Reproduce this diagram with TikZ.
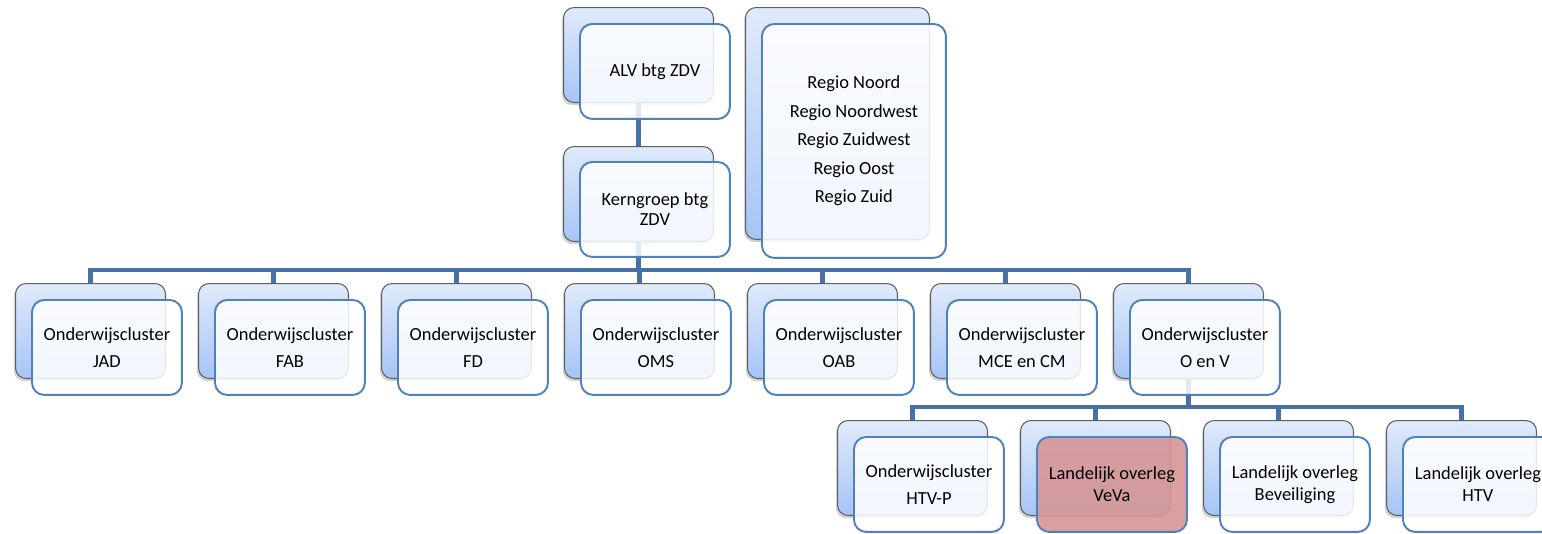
\documentclass[tikz,border=0pt]{standalone}
\usepackage{fontspec}
\setmainfont{Carlito}
\usetikzlibrary{shadows}

\definecolor{linkblue}{RGB}{70,112,168}
\definecolor{frameblue}{RGB}{79,129,189}
\definecolor{backtop}{RGB}{224,234,251}
\definecolor{backbot}{RGB}{166,196,246}
\definecolor{backframe}{RGB}{96,96,96}
\definecolor{vevared}{RGB}{214,150,150}

\tikzset{
  backbox/.style={anchor=north west, inner sep=0pt, minimum width=3cm, minimum height=1.9cm,
    rounded corners=6pt, draw=backframe, line width=0.6pt,
    top color=backtop, bottom color=backbot,
    drop shadow={shadow xshift=-1pt, shadow yshift=-1.5pt, opacity=0.35}},
  frontbox/.style={anchor=north west, inner sep=0pt, minimum width=3cm, minimum height=1.9cm,
    rounded corners=7pt, draw=frameblue, line width=1.1pt,
    fill=white, fill opacity=0.85, text opacity=1, align=center,
    font=\fontsize{10.5}{15.3}\selectfont},
  link/.style={draw=linkblue, line width=2.8pt}
}

\begin{document}
\begin{tikzpicture}[x=0.02cm, y=-0.02cm]
  \useasboundingbox (0,0) rectangle (1542,534);
  \coordinate (bus1) at (0,270);
  \coordinate (bus2) at (0,407);

  % back boxes
  \node[backbox] (alvB) at (563,7) {};
  \node[backbox] (kernB) at (563,146) {};
  \node[backbox, minimum width=3.68cm, minimum height=4.64cm] (regioB) at (745,7) {};
  \foreach \name [count=\i from 0] in {jad,fab,fd,oms,oab,mce,oenv}
    \node[backbox] (\name B) at (15+183*\i,283) {};
  \foreach \name [count=\i from 0] in {htvp,veva,bev,htv}
    \node[backbox] (\name B) at (837+183*\i,420) {};

  % connectors
  \draw[link] (alvB.south) -- (kernB.north);
  \foreach \name in {jad,fab,fd,oms,oab,mce,oenv}
    \draw[link] (kernB.south) -- (kernB.south |- bus1) -| (\name B.north);
  \foreach \name in {htvp,veva,bev,htv}
    \draw[link] (oenvB.south) -- (oenvB.south |- bus2) -| (\name B.north);

  % front boxes
  \node[frontbox] (alv) at (579,23) {ALV btg ZDV};
  \node[frontbox, font=\fontsize{10.5}{11.3}\selectfont] (kern) at (579,161) {Kerngroep btg\\ZDV};
  \node[frontbox, minimum width=3.68cm, minimum height=4.68cm, font=\fontsize{10.5}{16.2}\selectfont] (regio) at (761,23)
    {Regio Noord\\Regio Noordwest\\Regio Zuidwest\\Regio Oost\\Regio Zuid};
  \foreach \name/\lbl [count=\i from 0] in {jad/JAD,fab/FAB,fd/FD,oms/OMS,oab/OAB,mce/MCE en CM,oenv/O en V}
    \node[frontbox] (\name) at (31+183*\i,299) {Onderwijscluster\\\lbl};
  \node[frontbox] (htvp) at (853,436) {Onderwijscluster\\HTV-P};
  \node[frontbox, fill=vevared, fill opacity=0.9, font=\fontsize{10.5}{12.5}\selectfont] (veva) at (1036,436) {Landelijk overleg\\VeVa};
  \node[frontbox, font=\fontsize{10.5}{12.5}\selectfont] (bev) at (1219,436) {Landelijk overleg\\Beveiliging};
  \node[frontbox, font=\fontsize{10.5}{12.5}\selectfont] (htv) at (1402,436) {Landelijk overleg\\HTV};
\end{tikzpicture}
\end{document}
